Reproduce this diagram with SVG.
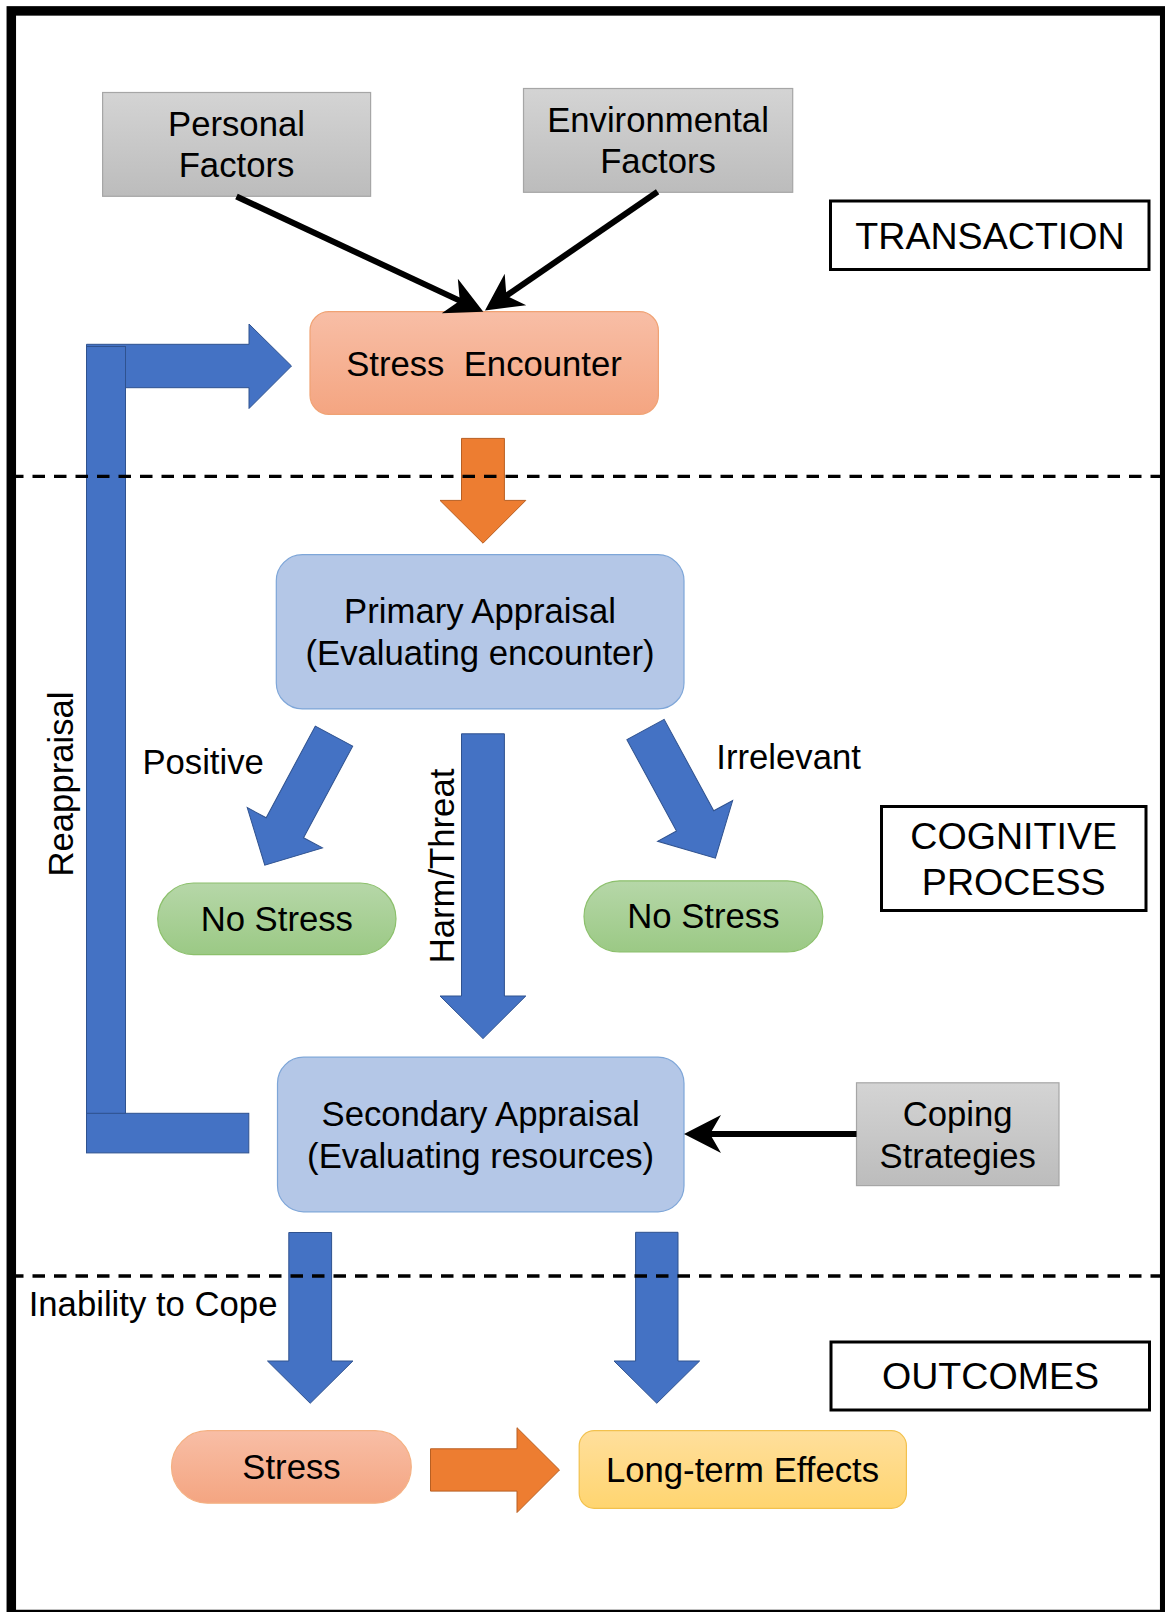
<svg xmlns="http://www.w3.org/2000/svg" width="1165" height="1612" viewBox="0 0 1165 1612">
  <style>
    .t { font-family: "Liberation Sans", Arial, sans-serif; font-size: 34.7px; fill: #000; text-anchor: middle; }
    .lab { font-size: 37.6px; }
    .start { text-anchor: start; }
    .tag { fill: #fff; stroke: #000; stroke-width: 3; }
    .factor { fill: url(#gGray); stroke: #a6a6a6; stroke-width: 1.2; }
    .appraisal { fill: #b4c7e7; stroke: #7ea6d8; stroke-width: 1.2; }
    .nostress { fill: url(#gGreen); stroke: #8cc06c; stroke-width: 1.2; }
    .blue { fill: #4472c4; stroke: #2f528f; stroke-width: 1; }
    .orange { fill: #ed7d31; stroke: #b85f22; stroke-width: 1; }
    .conn { fill: none; stroke: #000; stroke-width: 6; marker-end: url(#stealth); }
    .dash { fill: none; stroke: #000; stroke-width: 3.3; stroke-dasharray: 12.5 9; }
  </style>
  <defs>
    <linearGradient id="gGray" x1="0" y1="0" x2="0" y2="1">
      <stop offset="0" stop-color="#d4d4d4"/>
      <stop offset="1" stop-color="#bcbcbc"/>
    </linearGradient>
    <linearGradient id="gSalmon" x1="0" y1="0" x2="0" y2="1">
      <stop offset="0" stop-color="#f8bea6"/>
      <stop offset="1" stop-color="#f4a581"/>
    </linearGradient>
    <linearGradient id="gGreen" x1="0" y1="0" x2="0" y2="1">
      <stop offset="0" stop-color="#b6d7a8"/>
      <stop offset="1" stop-color="#9bc985"/>
    </linearGradient>
    <linearGradient id="gGold" x1="0" y1="0" x2="0" y2="1">
      <stop offset="0" stop-color="#ffdf9c"/>
      <stop offset="1" stop-color="#ffd570"/>
    </linearGradient>
    <!-- stealth arrowhead, tip 22 units past the line end -->
    <marker id="stealth" markerUnits="userSpaceOnUse" orient="auto" viewBox="-40 -22 44 44" refX="-22" refY="0" markerWidth="44" markerHeight="44" overflow="visible">
      <path d="M0,0 L-37,-19 L-26,0 L-37,19 Z" fill="#000"/>
    </marker>
    <!-- block arrow pointing down, top centre at origin -->
    <path id="diagArrow" d="M-21.2,0 H21.2 V104 H42.7 L0,146.5 L-42.7,104 H-21.2 Z"/>
  </defs>

  <rect x="0" y="0" width="1165" height="1612" fill="#fff"/>
  <!-- outer frame -->
  <rect x="11.3" y="10.9" width="1153.4" height="1603.6" fill="none" stroke="#000" stroke-width="9.5"/>

  <!-- section tags -->
  <g id="tag-transaction">
    <rect class="tag" x="830.5" y="201" width="318.5" height="68.5"/>
    <text class="t lab" x="990" y="249.3">TRANSACTION</text>
  </g>
  <g id="tag-cognitive">
    <rect class="tag" x="881.5" y="806.5" width="264.5" height="104"/>
    <text class="t lab" x="1013.7" y="848.6">COGNITIVE</text>
    <text class="t lab" x="1013.7" y="895">PROCESS</text>
  </g>
  <g id="tag-outcomes">
    <rect class="tag" x="831" y="1342" width="318.5" height="68"/>
    <text class="t lab" x="990.5" y="1389.3">OUTCOMES</text>
  </g>

  <!-- nodes -->
  <g id="personal-factors">
    <rect class="factor" x="102.6" y="92.5" width="268" height="103.8"/>
    <text class="t" x="236.5" y="136">Personal</text>
    <text class="t" x="236.5" y="176.7">Factors</text>
  </g>
  <g id="environmental-factors">
    <rect class="factor" x="523.5" y="88.5" width="269.2" height="103.8"/>
    <text class="t" x="658" y="131.7">Environmental</text>
    <text class="t" x="658" y="172.7">Factors</text>
  </g>
  <g id="stress-encounter">
    <rect x="310" y="311.7" width="348.4" height="102.6" rx="19" fill="url(#gSalmon)" stroke="#f0a274" stroke-width="1.2"/>
    <text class="t" x="484" y="376" xml:space="preserve">Stress  Encounter</text>
  </g>
  <g id="primary-appraisal">
    <rect class="appraisal" x="276.3" y="554.7" width="407.7" height="154.2" rx="26"/>
    <text class="t" x="480" y="622.8">Primary Appraisal</text>
    <text class="t" x="480" y="665">(Evaluating encounter)</text>
  </g>
  <g id="no-stress-positive">
    <rect class="nostress" x="157.7" y="883" width="238.3" height="71.6" rx="35.8"/>
    <text class="t" x="276.8" y="931">No Stress</text>
  </g>
  <g id="no-stress-irrelevant">
    <rect class="nostress" x="584" y="880.8" width="238.8" height="71.2" rx="35.6"/>
    <text class="t" x="703.4" y="928">No Stress</text>
  </g>
  <g id="secondary-appraisal">
    <rect class="appraisal" x="277.5" y="1057.2" width="406.5" height="154.6" rx="26"/>
    <text class="t" x="480.6" y="1125.7">Secondary Appraisal</text>
    <text class="t" x="480.6" y="1168">(Evaluating resources)</text>
  </g>
  <g id="coping-strategies">
    <rect class="factor" x="856.5" y="1082.8" width="202.5" height="102.8"/>
    <text class="t" x="957.7" y="1126">Coping</text>
    <text class="t" x="957.7" y="1167.5">Strategies</text>
  </g>
  <g id="stress">
    <rect x="171.5" y="1430.7" width="239.8" height="72.5" rx="36.2" fill="url(#gSalmon)" stroke="#f4b183" stroke-width="1.2"/>
    <text class="t" x="291.5" y="1479.4">Stress</text>
  </g>
  <g id="long-term-effects">
    <rect x="579.2" y="1430.7" width="327.2" height="77.6" rx="15" fill="url(#gGold)" stroke="#f2c14e" stroke-width="1.2"/>
    <text class="t" x="742.5" y="1481.7">Long-term Effects</text>
  </g>

  <!-- connectors -->
  <g id="connectors">
    <line class="conn" x1="236.5" y1="196.5" x2="463.4" y2="302.4"/>
    <line class="conn" x1="657.6" y1="191.7" x2="503.1" y2="298"/>
    <line class="conn" x1="856.5" y1="1134" x2="706" y2="1134"/>

    <!-- reappraisal loop -->
    <path class="blue" d="M86.5,344.3 H249 V324 L291.5,366 L249,408.5 V387.7 H86.5 Z"/>
    <rect class="blue" x="86.5" y="346.5" width="39" height="767"/>
    <rect class="blue" x="86.5" y="1113.3" width="162.3" height="39.6"/>

    <!-- encounter to primary appraisal -->
    <path class="orange" d="M461.5,438.4 H504.4 V500.4 H525.8 L483,543.2 L440,500.4 H461.5 Z"/>

    <use href="#diagArrow" class="blue" transform="translate(334,736.1) rotate(28.2)"/>
    <use href="#diagArrow" class="blue" transform="translate(645.5,729.5) rotate(-28.5)"/>
    <path class="blue" d="M461.5,733.8 H504.4 V996 H525.8 L483,1038.6 L440,996 H461.5 Z"/>

    <path class="blue" d="M288.8,1232.5 H331.6 V1361 H352.9 L310.2,1403.3 L267.5,1361 H288.8 Z"/>
    <path class="blue" d="M635.6,1232.3 H678 V1361 H699.6 L656.8,1403.3 L614,1361 H635.6 Z"/>

    <path class="orange" d="M430.5,1448.8 H517 V1427.7 L559.5,1470 L517,1512.5 V1491.1 H430.5 Z"/>

    <text class="t start" x="142.4" y="774">Positive</text>
    <text class="t start" x="716.3" y="769.3">Irrelevant</text>
    <text class="t" transform="translate(454,866) rotate(-90)">Harm/Threat</text>
    <text class="t" transform="translate(72.5,784) rotate(-90)">Reappraisal</text>
    <text class="t start" x="28.7" y="1316.3">Inability to Cope</text>
  </g>

  <!-- section dividers -->
  <line class="dash" x1="11" y1="476.3" x2="1160" y2="476.3"/>
  <line class="dash" x1="11" y1="1276" x2="1160" y2="1276"/>
</svg>
